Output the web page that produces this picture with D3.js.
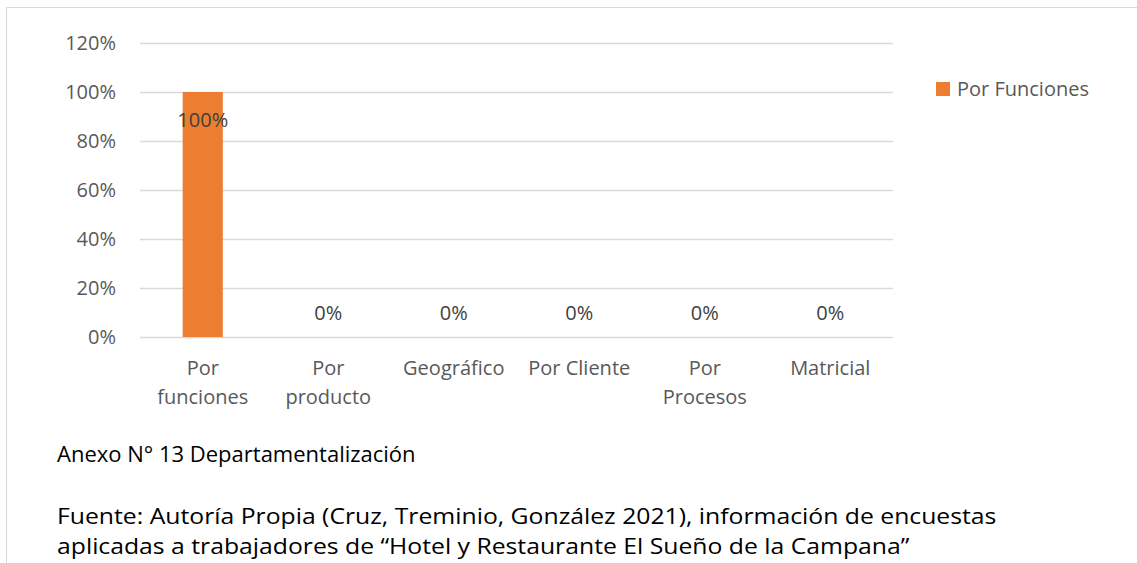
<!DOCTYPE html>
<html>
<head>
<meta charset="utf-8">
<script src="https://cdn.jsdelivr.net/npm/d3@7"></script>
<style>
  body { margin: 0; background: #fff; }
  svg { display: block; }
</style>
</head>
<body>
<svg id="chart"></svg>
<script>
// categories and values
const categories = [["Por", "funciones"], ["Por", "producto"], ["Geográfico"], ["Por Cliente"], ["Por", "Procesos"], ["Matricial"]];
const values = [1, 0, 0, 0, 0, 0];
const yTicks = [0, 0.2, 0.4, 0.6, 0.8, 1.0, 1.2];
const seriesName = "Por Funciones";
const caption = "Anexo N° 13 Departamentalización";
const source = ["Fuente: Autoría Propia (Cruz, Treminio, González 2021), información de encuestas",
                "aplicadas a trabajadores de \u201cHotel y Restaurante El Sueño de la Campana\u201d"];

const width = 1137, height = 563;
const plot = { left: 140, right: 893, top: 43, bottom: 337 };
const font = "'Open Sans', sans-serif";
const axisSize = "20px ";

const svg = d3.select("#chart")
    .attr("width", width)
    .attr("height", height);

// chart frame (top + left edges visible)
svg.append("path")
    .attr("d", "M6.5," + height + "V7.5H" + width)
    .attr("fill", "none")
    .attr("stroke", "#d9d9d9");

const x = d3.scaleBand()
    .domain(d3.range(categories.length))
    .range([plot.left, plot.right])
    .paddingInner(0.68)
    .paddingOuter(0.34);

const y = d3.scaleLinear()
    .domain([0, 1.2])
    .range([plot.bottom, plot.top]);

// gridlines + y labels
const yAxis = d3.axisLeft(y)
    .tickValues(yTicks)
    .tickFormat(d3.format(".0%"))
    .tickSize(-(plot.right - plot.left))
    .tickPadding(24);

const gy = svg.append("g")
    .attr("transform", "translate(" + plot.left + ",0)")
    .call(yAxis);
gy.select(".domain").remove();
gy.selectAll(".tick line").attr("stroke", "#d9d9d9").attr("stroke-width", 1.3);
gy.selectAll(".tick text")
    .attr("fill", "#595959")
    .style("font", axisSize + font);

// bars
svg.selectAll("rect.bar")
    .data(values)
    .enter().append("rect")
    .attr("class", "bar")
    .attr("x", (d, i) => x(i))
    .attr("y", d => y(d))
    .attr("width", x.bandwidth())
    .attr("height", d => y(0) - y(d))
    .attr("fill", "#ed7d31");

// data labels
svg.selectAll("text.val")
    .data(values)
    .enter().append("text")
    .attr("class", "val")
    .attr("x", (d, i) => x(i) + x.bandwidth() / 2)
    .attr("y", d => d > 0 ? y(d) + 35 : y(d) - 17)
    .attr("text-anchor", "middle")
    .attr("fill", "#404040")
    .style("font", axisSize + font)
    .text(d => d3.format(".0%")(d));

// category labels
const cat = svg.selectAll("text.cat")
    .data(categories)
    .enter().append("text")
    .attr("class", "cat")
    .attr("text-anchor", "middle")
    .attr("fill", "#595959")
    .style("font", axisSize + font)
    .attr("transform", (d, i) => "translate(" + (x(i) + x.bandwidth() / 2) + "," + (plot.bottom + 38) + ")");
cat.selectAll("tspan")
    .data(d => d)
    .enter().append("tspan")
    .attr("x", 0)
    .attr("dy", (d, i) => i ? 29 : 0)
    .text(d => d);

// legend
const lg = svg.append("g").attr("transform", "translate(936,82)");
lg.append("rect").attr("width", 14).attr("height", 14).attr("fill", "#ed7d31");
lg.append("text")
    .attr("x", 21).attr("y", 14)
    .attr("fill", "#595959")
    .style("font", axisSize + font)
    .text(seriesName);

// captions
svg.append("text")
    .attr("x", 57).attr("y", 462)
    .attr("fill", "#000")
    .style("font", "22px " + font)
    .text(caption);

// source note, slightly widened like the reference
svg.append("g")
    .attr("transform", "translate(57,0) scale(1.1,1)")
    .append("text")
    .attr("y", 524)
    .attr("fill", "#000")
    .style("font", "22.5px " + font)
    .selectAll("tspan")
    .data(source)
    .enter().append("tspan")
    .attr("x", 0)
    .attr("dy", (d, i) => i ? 30 : 0)
    .text(d => d);
</script>
</body>
</html>
